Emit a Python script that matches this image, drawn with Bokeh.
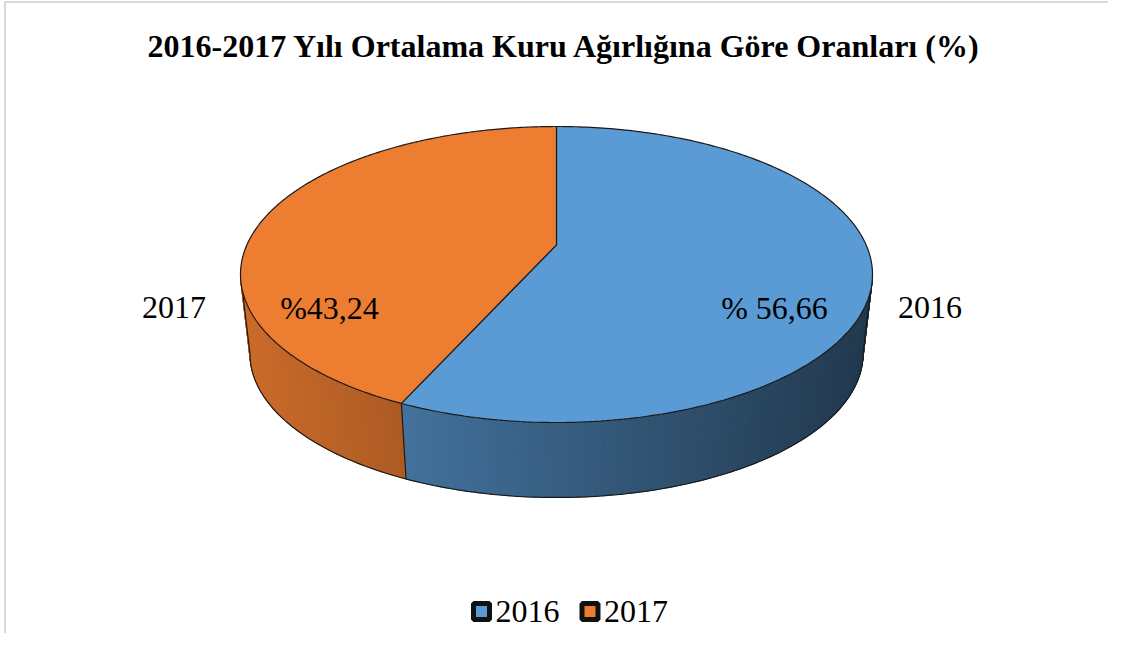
import numpy as np
from bokeh.plotting import figure
from bokeh.models import Range1d
from bokeh.embed import file_html
from bokeh.resources import INLINE
from bokeh.core.properties import value

# ---------------- data ----------------
TITLE = "2016-2017 Yılı Ortalama Kuru Ağırlığına Göre Oranları (%)"
categories = ["2016", "2017"]
shares = [56.66, 43.24]
share_labels = ["% 56,66", "%43,24"]
top_colors = ["#5B9BD5", "#ED7D31"]

# ---------------- layout ----------------
W, H = 1108, 633
CX, CY = 556.0, 274.0      # centre of the top ellipse (px)
RX, RY = 316.0, 148.0      # semi-axes of the top face
K = 0.2                    # perspective strength
DZ = 79.4                  # drop of the bottom face
SB = 0.97                  # bottom face shrink (perspective)
LABEL_CX = 551.5           # horizontal centre used for data labels
LABEL_Y = 307.0
FONT = "Liberation Serif"


def proj(theta_deg, r=1.0, level=0):
    th = np.radians(theta_deg)
    X = r * np.sin(th)
    Z = -r * np.cos(th)
    den = 1 - K * Z
    nx = np.sqrt(1 - K * K) * X / den
    ny = (1 - K * K) * (Z / den - K / (1 - K * K))
    s = SB if level else 1.0
    return CX + s * RX * nx, CY + level * DZ + s * RY * ny


def shade(hex_color, x):
    f = 0.85 - 0.00078 * (x - 250.0)
    f = min(max(f, 0.3), 0.95)
    r, g, b = (int(hex_color[i:i + 2], 16) for i in (1, 3, 5))
    return "#%02x%02x%02x" % (int(r * f), int(g * f), int(b * f))


p = figure(width=W, height=H, x_range=Range1d(0, W), y_range=Range1d(H, 0),
           x_axis_type=None, y_axis_type=None, output_backend="svg",
           toolbar_location=None, min_border=0, title=None,
           outline_line_color=None,
           background_fill_color="white", border_fill_color="white")
p.grid.visible = False

# chart-area border (top and left edges visible)
p.multi_line([[4.5, 4.5, W], [4.5, 4.5]], [[H, 1.5, 1.5], [1.5, H]],
             line_color="#d9d9d9", line_width=2)

total = sum(shares)
bounds = [0.0]
for s in shares:
    bounds.append(bounds[-1] + 360.0 * s / total)

TR = np.degrees(np.arccos(-K))          # right silhouette angle
TL = 360.0 - TR                         # left silhouette angle

# ---- side walls (shaded strips) ----
sx, sy, sc = [], [], []
for i in range(len(shares)):
    a, b = max(bounds[i], TR), min(bounds[i + 1], TL)
    if a >= b:
        continue
    n = int(np.ceil((b - a) / 1.0))
    ts = np.linspace(a, b, n + 1)
    for j in range(n):
        xa, ya = proj(ts[j])
        xb, yb = proj(ts[j + 1])
        xc, yc = proj(ts[j + 1], level=1)
        xd, yd = proj(ts[j], level=1)
        sx.append([xa, xb, xc, xd])
        sy.append([ya, yb, yc, yd])
        sc.append(shade(top_colors[i], (xa + xb) / 2))
p.patches(sx, sy, fill_color=sc, line_color=sc, line_width=1)

# side outlines
ol_x, ol_y = [], []
ts = np.linspace(TR, TL, 200)
bx, by = proj(ts, level=1)
ol_x.append(list(bx)); ol_y.append(list(by))
for t in [TR, TL] + [bd for bd in bounds[1:-1] if TR < bd < TL]:
    x0, y0 = proj(t)
    x1, y1 = proj(t, level=1)
    ol_x.append([x0, x1]); ol_y.append([y0, y1])
p.multi_line(ol_x, ol_y, line_color="#1a1a1a", line_width=1.2)

# ---- top face wedges ----
wx, wy = [], []
cx0, cy0 = proj(0.0, r=0.0)
for i in range(len(shares)):
    ts = np.linspace(bounds[i], bounds[i + 1], 240)
    ax, ay = proj(ts)
    wx.append([cx0] + list(ax))
    wy.append([cy0] + list(ay))
p.patches(wx, wy, fill_color=top_colors, line_color="#1a1a1a", line_width=1.2)

# ---- labels ----
mids = [(bounds[i] + bounds[i + 1]) / 2 for i in range(len(shares))]
in_x = [LABEL_CX + 0.72 * RX * np.sin(np.radians(m)) for m in mids]
out_x = [LABEL_CX + 1.223 * RX * np.sin(np.radians(m)) for m in mids]
ly = [LABEL_Y] * len(mids)
p.text(in_x, ly, text=share_labels, text_font=value(FONT), text_font_size="32px",
       text_align="center", text_baseline="middle", text_color="black")
p.text(out_x, ly, text=categories, text_font=value(FONT), text_font_size="32px",
       text_align="center", text_baseline="middle", text_color="black")

# ---- title ----
p.text([564], [45], text=[TITLE], text_font=value(FONT), text_font_size="32px",
       text_font_style="bold", text_align="center", text_baseline="middle", text_color="black")

# ---- legend ----
LX0, LSTEP, LY = 481.0, 108.5, 611.0
lx = [LX0 + i * LSTEP for i in range(len(categories))]
p.scatter(lx, [LY] * len(lx), marker="square", size=16, fill_color=top_colors,
          line_color="#111111", line_width=5)
p.text([x + 14 for x in lx], [LY] * len(lx), text=categories, text_font=value(FONT),
       text_font_size="32px", text_align="left", text_baseline="middle", text_color="black")

open("out.html", "w").write(file_html(p, INLINE))
